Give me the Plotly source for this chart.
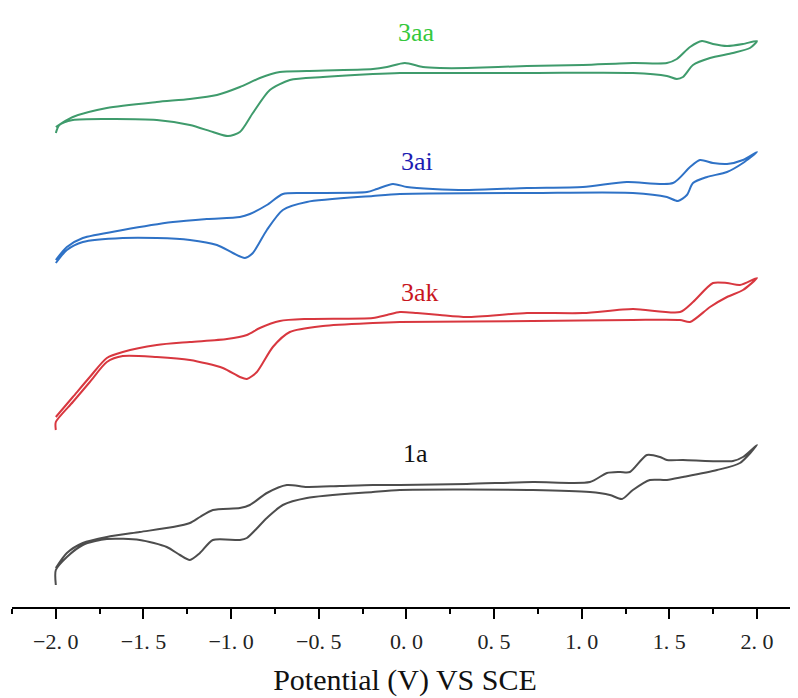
import plotly.graph_objects as go

# ---- data: potential (V vs SCE) and current (a.u., stacked/offset) ----
# 3aa
E_3aa_fwd = [-2.0, -1.903, -1.709, -1.424, -1.235, -1.081, -0.950, -0.836, -0.722, -0.568, -0.191, -0.111,
             -0.009, 0.094, 0.191, 0.345, 0.688, 1.007, 1.292, 1.486, 1.543, 1.618, 1.686, 1.749, 1.829, 1.920, 2.0]
I_3aa_fwd = [481, 491, 500, 506, 509, 513, 521, 530, 536, 537, 539, 541,
             545, 541, 540, 540, 542, 543, 545, 545, 549, 561, 567, 564, 562, 564, 567]
E_3aa_rev = [1.960, 1.863, 1.732, 1.635, 1.578, 1.543, 1.486, 1.292, 0.720, -0.036, -0.191, -0.476, -0.665,
             -0.779, -0.876, -0.950, -1.018, -1.104, -1.235, -1.424, -1.709, -1.903, -1.980, -2.0]
I_3aa_rev = [560, 555, 550, 543, 531, 529, 532, 535, 535, 535, 534, 531, 528,
             518, 495, 476, 472, 476, 483, 488, 489, 488, 483, 475]

# 3ai
E_3ai_fwd = [-2.0, -1.937, -1.846, -1.618, -1.332, -1.138, -0.950, -0.893, -0.796, -0.705, -0.568, -0.225,
             -0.168, -0.077, 0.003, 0.151, 0.345, 0.688, 1.007, 1.258, 1.521, 1.618, 1.675, 1.749, 1.829, 1.920, 2.0]
I_3ai_fwd = [348, 361, 370, 378, 386, 389, 391, 394, 403, 414, 415, 416,
             419, 424, 421, 419, 418, 420, 421, 426, 425, 441, 448, 445, 444, 448, 456]
E_3ai_rev = [1.920, 1.829, 1.715, 1.635, 1.600, 1.549, 1.486, 1.292, 0.722, -0.037, -0.191, -0.568,
             -0.705, -0.796, -0.876, -0.921, -0.990, -1.081, -1.235, -1.424, -1.618, -1.846, -1.937, -2.0]
I_3ai_rev = [445, 436, 431, 425, 413, 407, 411, 415, 415, 414, 412, 406,
             398, 378, 355, 350, 355, 363, 368, 370, 370, 366, 358, 345]

# 3ak
E_3ak_fwd = [-2.0, -1.903, -1.806, -1.709, -1.618, -1.424, -1.235, -1.024, -0.910, -0.836, -0.722, -0.568,
             -0.191, -0.111, -0.037, 0.060, 0.191, 0.345, 0.688, 1.007, 1.292, 1.561, 1.635, 1.749, 1.829, 1.903, 2.0]
I_3ak_fwd = [191, 211, 231, 250, 256, 263, 266, 269, 273, 280, 287, 289,
             290, 293, 296, 295, 293, 291, 295, 295, 299, 296, 306, 325, 325, 323, 330]
E_3ak_rev = [1.920, 1.829, 1.732, 1.618, 1.561, 1.292, 0.722, -0.037, -0.191, -0.476, -0.665, -0.762,
             -0.853, -0.910, -0.950, -1.047, -1.235, -1.424, -1.618, -1.709, -1.806, -1.903, -2.0, -2.0]
I_3ak_rev = [318, 311, 301, 286, 288, 288, 287, 286, 285, 282, 276, 261,
             236, 229, 231, 240, 248, 251, 252, 246, 226, 206, 186, 178]

# 1a
E_1a_fwd = [-2.0, -1.937, -1.846, -1.709, -1.521, -1.332, -1.235, -1.178, -1.104, -0.950, -0.893, -0.796,
            -0.682, -0.568, -0.380, -0.191, -0.037, 0.345, 0.722, 1.047, 1.144, 1.218, 1.275, 1.372, 1.447,
            1.486, 1.578, 1.863, 1.920, 2.0]
I_1a_fwd = [40, 55, 65, 71, 76, 81, 85, 91, 98, 100, 103, 115,
            123, 121, 122, 123, 123, 124, 126, 126, 135, 136, 136, 153, 151,
            148, 148, 147, 151, 163]
E_1a_rev = [1.903, 1.772, 1.578, 1.486, 1.389, 1.292, 1.230, 1.161, 1.047, 0.722, -0.037, -0.191, -0.568,
            -0.705, -0.796, -0.910, -0.950, -1.104, -1.178, -1.235, -1.292, -1.367, -1.521, -1.709, -1.846,
            -1.937, -2.0, -2.0]
I_1a_rev = [145, 138, 131, 128, 128, 118, 109, 113, 116, 118, 118, 116, 110,
            103, 90, 70, 68, 68, 55, 48, 53, 61, 68, 69, 63,
            51, 38, 23]

series_names = ["3aa", "3ai", "3ak", "1a"]
line_colors = ["#3f9b6c", "#2f72c6", "#d8373f", "#4d4d4d"]
label_colors = ["#35c83c", "#1c1cb2", "#c8161e", "#111111"]
label_E = [0.06, 0.06, 0.08, 0.05]
label_I = [576, 447, 316, 155]

curves = [
    (E_3aa_fwd + E_3aa_rev, I_3aa_fwd + I_3aa_rev),
    (E_3ai_fwd + E_3ai_rev, I_3ai_fwd + I_3ai_rev),
    (E_3ak_fwd + E_3ak_rev, I_3ak_fwd + I_3ak_rev),
    (E_1a_fwd + E_1a_rev, I_1a_fwd + I_1a_rev),
]

tick_vals = [-2.0, -1.5, -1.0, -0.5, 0.0, 0.5, 1.0, 1.5, 2.0]
tick_text = ["\u22122. 0", "\u22121. 5", "\u22121. 0", "\u22120. 5", "0. 0", "0. 5", "1. 0", "1. 5", "2. 0"]
minor_vals = [-2.25, -1.75, -1.25, -0.75, -0.25, 0.25, 0.75, 1.25, 1.75]

SERIF = "Liberation Serif, Times New Roman, DejaVu Serif, serif"

fig = go.Figure()
for (E, I), name, col in zip(curves, series_names, line_colors):
    fig.add_trace(go.Scatter(x=E, y=I, mode="lines", name=name,
                             line=dict(color=col, width=2, shape="spline", smoothing=0.7),
                             showlegend=False, hoverinfo="skip"))

for name, col, ex, iy in zip(series_names, label_colors, label_E, label_I):
    fig.add_annotation(x=ex, y=iy, xref="x", yref="y", text=name, showarrow=False,
                       font=dict(family=SERIF, size=26, color=col))

fig.update_layout(
    width=790, height=690,
    margin=dict(l=4, r=0, t=0, b=91, autoexpand=False),
    paper_bgcolor="white", plot_bgcolor="white",
    xaxis=dict(range=[-2.25, 2.234], showline=True, linewidth=2, linecolor="black",
               showgrid=False, zeroline=False, ticks="outside", ticklen=10, tickwidth=2,
               tickcolor="black", tickvals=tick_vals, ticktext=tick_text, automargin=False,
               ticklabelstandoff=4,
               tickfont=dict(family=SERIF, size=22, color="#222"),
               minor=dict(tickvals=minor_vals, ticks="outside", ticklen=5, tickwidth=2, tickcolor="black"),
               title=dict(text="Potential (V) VS SCE", standoff=16,
                          font=dict(family=SERIF, size=30, color="#111"))),
    yaxis=dict(range=[1, 600], visible=False, showgrid=False, zeroline=False),
)

fig.write_html("out.html")
